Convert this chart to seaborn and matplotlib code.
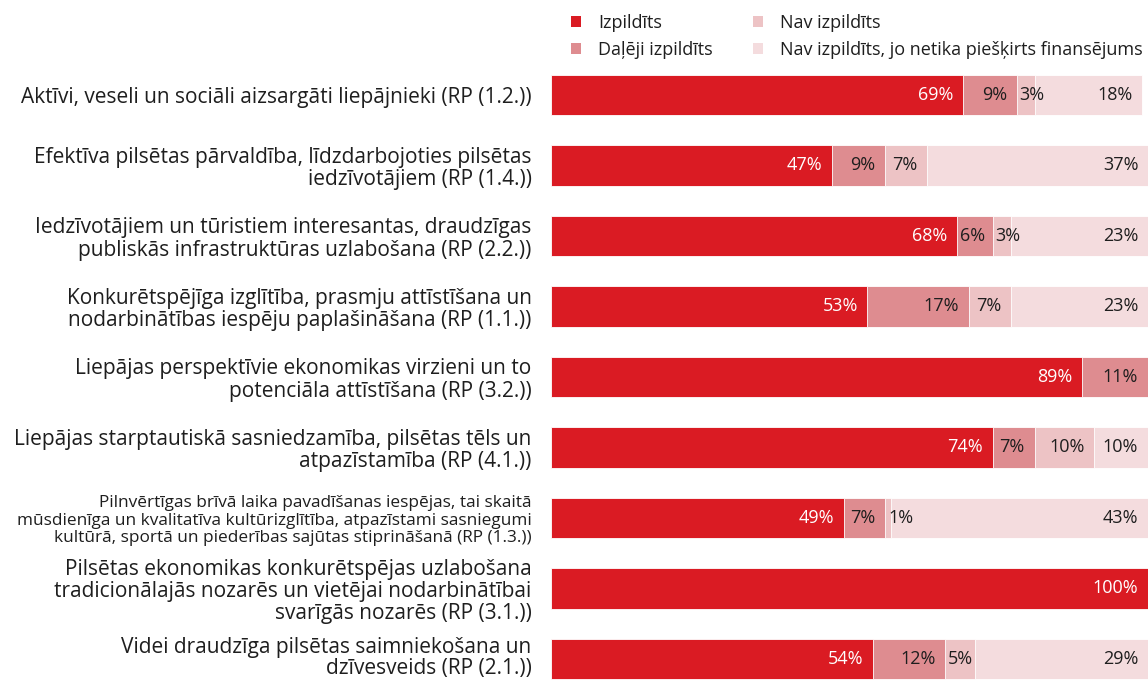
import pandas as pd
import matplotlib.pyplot as plt
import matplotlib.transforms as mtransforms
import seaborn as sns
from matplotlib.patches import Patch

# data
categories = [
    'Aktīvi, veseli un sociāli aizsargāti liepājnieki (RP (1.2.))',
    'Efektīva pilsētas pārvaldība, līdzdarbojoties pilsētas\niedzīvotājiem (RP (1.4.))',
    'Iedzīvotājiem un tūristiem interesantas, draudzīgas\npubliskās infrastruktūras uzlabošana (RP (2.2.))',
    'Konkurētspējīga izglītība, prasmju attīstīšana un\nnodarbinātības iespēju paplašināšana (RP (1.1.))',
    'Liepājas perspektīvie ekonomikas virzieni un to\npotenciāla attīstīšana (RP (3.2.))',
    'Liepājas starptautiskā sasniedzamība, pilsētas tēls un\natpazīstamība (RP (4.1.))',
    'Pilnvērtīgas brīvā laika pavadīšanas iespējas, tai skaitā\nmūsdienīga un kvalitatīva kultūrizglītība, atpazīstami sasniegumi\nkultūrā, sportā un piederības sajūtas stiprināšanā (RP (1.3.))',
    'Pilsētas ekonomikas konkurētspējas uzlabošana\ntradicionālajās nozarēs un vietējai nodarbinātībai\nsvarīgās nozarēs (RP (3.1.))',
    'Videi draudzīga pilsētas saimniekošana un\ndzīvesveids (RP (2.1.))',
]
series = ['Izpildīts', 'Daļēji izpildīts', 'Nav izpildīts',
          'Nav izpildīts, jo netika piešķirts finansējums']
izpildits = [69, 47, 68, 53, 89, 74, 49, 100, 54]
daleji = [9, 9, 6, 17, 11, 7, 7, 0, 12]
nav = [3, 7, 3, 7, 0, 10, 1, 0, 5]
nav_fin = [18, 37, 23, 23, 0, 10, 43, 0, 29]

colors = ['#DA1B23', '#DE8C90', '#EDC3C5', '#F4DCDE']

sns.set_style('white')
plt.rcParams['font.family'] = ['Open Sans', 'DejaVu Sans']

df = pd.DataFrame({'cat': categories, series[0]: izpildits, series[1]: daleji,
                   series[2]: nav, series[3]: nav_fin})
cum = df[series].cumsum(axis=1)

fig = plt.figure(figsize=(11.48, 6.8), dpi=100)
ax = fig.add_axes([551 / 1148, 0, 597 / 1148, 620 / 680])

# stacked bars: draw cumulative totals from back to front
for i in range(3, -1, -1):
    sns.barplot(x=cum[series[i]], y=df['cat'], orient='h', color=colors[i],
                saturation=1, width=0.57, edgecolor='white', linewidth=0.6, ax=ax)

ax.set_xlim(0, 100)
ax.set_ylim(8.298, -0.496)
ax.set_xlabel('')
ax.set_ylabel('')
ax.set_xticks([])
sns.despine(ax=ax, left=True, bottom=True)
ax.tick_params(axis='y', length=0, pad=14, labelsize=15, labelcolor='#1e1e1e')
ylabs = ax.get_yticklabels()
for k, lab in enumerate(ylabs):
    lab.set_linespacing(1.08)
ylabs[6].set_fontsize(12.4)
ylabs[6].set_linespacing(1.12)
# last label sits on the bottom edge, nudge it up a little so it stays inside
ylabs[8].set_linespacing(1.0)
ylabs[8].set_transform(ylabs[8].get_transform()
                       + mtransforms.ScaledTranslation(0, 3 / 100, fig.dpi_scale_trans))

# value labels at the inner end of each segment, pushed right when the segment is too narrow
labels = []
for i, s in enumerate(series):
    for row in range(len(df)):
        v = df[s].iloc[row]
        if v <= 0:
            continue
        end = min(cum[s].iloc[row], 100)
        t = ax.annotate(f'{v}%', xy=(end, row), xytext=(-7, 0),
                        textcoords='offset points', ha='right', va='center',
                        fontsize=13, annotation_clip=False,
                        color='white' if i == 0 else '#1e1e1e')
        labels.append((t, end - v, row))

fig.canvas.draw()
r = fig.canvas.get_renderer()
for t, start, row in labels:
    bb = t.get_window_extent(r)
    x_start = ax.transData.transform((start, row))[0]
    if bb.x0 < x_start + 2:
        t.xy = (start, row)
        t.set_ha('left')
        t.set_position((2, 0))

handles = [Patch(facecolor=c, edgecolor='none') for c in colors]
fig.legend(handles, series, loc='upper left', bbox_to_anchor=(555 / 1148, 1.004),
           ncol=2, frameon=False, fontsize=13, handlelength=0.55, handleheight=0.55,
           handletextpad=0.95, columnspacing=2.2, labelspacing=0.5,
           labelcolor='#1e1e1e')

fig.savefig('out.png', dpi=100)
